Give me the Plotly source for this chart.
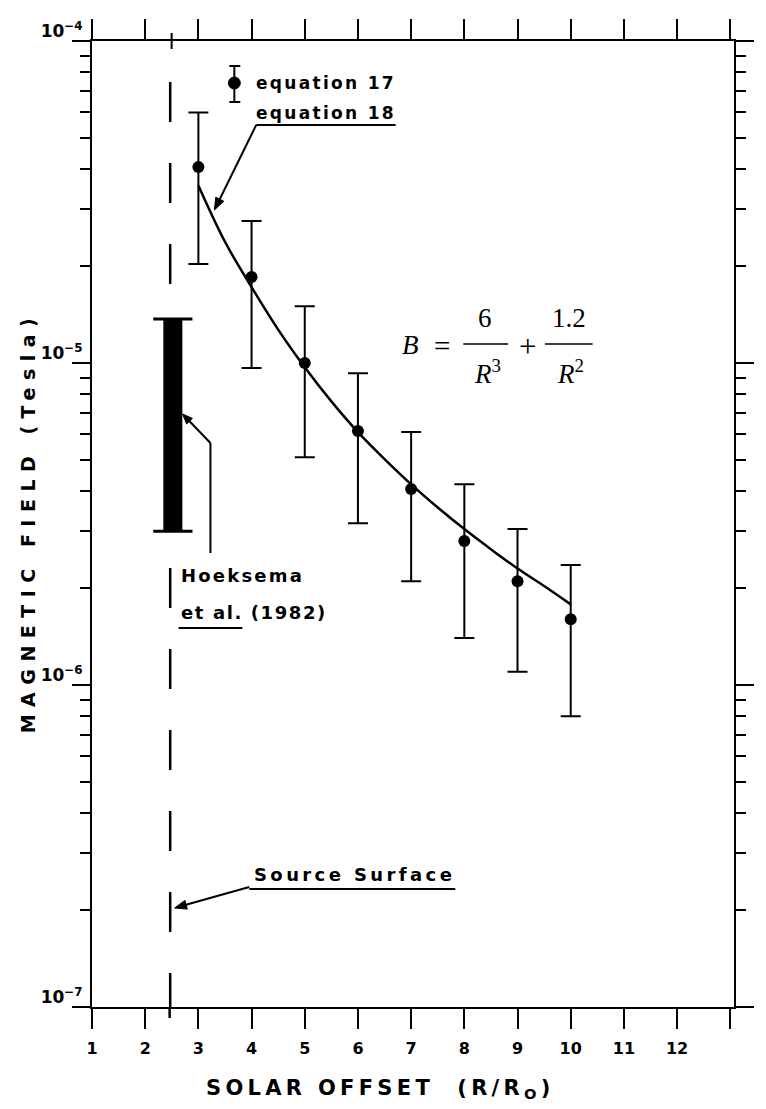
import math
import plotly.graph_objects as go

# ---------------- data ----------------
R_OBS = [3, 4, 5, 6, 7, 8, 9, 10]
B_OBS = [4.06e-5, 1.85e-5, 1.00e-5, 6.15e-6, 4.06e-6, 2.80e-6, 2.10e-6, 1.60e-6]
B_HI = [6.0e-5, 2.76e-5, 1.50e-5, 9.3e-6, 6.1e-6, 4.2e-6, 3.05e-6, 2.36e-6]
B_LO = [2.03e-5, 9.65e-6, 5.1e-6, 3.18e-6, 2.1e-6, 1.4e-6, 1.1e-6, 8.0e-7]

R_CURVE = [3, 3.5, 4, 4.5, 5, 5.5, 6, 6.5, 7, 7.5, 8, 8.5, 9, 9.5, 10]
B_CURVE = [3.56e-5, 2.38e-5, 1.72e-5, 1.27e-5, 9.7e-6, 7.6e-6, 6.1e-6, 5.03e-6,
           4.2e-6, 3.56e-6, 3.05e-6, 2.64e-6, 2.30e-6, 2.03e-6, 1.78e-6]

HOEKSEMA_R = [2.52, 2.52]
HOEKSEMA_B = [3.0e-6, 1.37e-5]

SOURCE_SURFACE_R = [2.47, 2.47]
SOURCE_SURFACE_B = [1e-4, 1e-7]

X_TICKS = [1, 2, 3, 4, 5, 6, 7, 8, 9, 10, 11, 12, 13]
X_TICK_TEXT = ["1", "2", "3", "4", "5", "6", "7", "8", "9", "10", "11", "12", " "]
Y_TICKS = [1e-7, 1e-6, 1e-5, 1e-4]
Y_TICK_TEXT = ["10<sup>\u22127</sup>", "10<sup>\u22126</sup>", "10<sup>\u22125</sup>", "10<sup>\u22124</sup>"]
Y_MINOR = [m * d for d in [1e-7, 1e-6, 1e-5] for m in range(2, 10)]

# ---------------- layout helpers (pixel -> paper) ----------------
L, R_, T, B_ = 92, 737, 41, 1007
W, H = 766, 1109


def px(x):
    return (x - L) / (R_ - L)


def py(y):
    return (B_ - y) / (B_ - T)


SANS = "DejaVu Sans"
SERIF = "Liberation Serif"

fig = go.Figure()

# source surface dashed line
fig.add_trace(go.Scatter(
    x=SOURCE_SURFACE_R, y=SOURCE_SURFACE_B, mode="lines",
    line=dict(color="black", width=2.5, dash="0px,41px,40px,0px"),
    hoverinfo="skip"))

# Hoeksema et al. range bar
fig.add_trace(go.Scatter(
    x=HOEKSEMA_R, y=HOEKSEMA_B, mode="lines",
    line=dict(color="black", width=19), hoverinfo="skip"))
fig.add_trace(go.Scatter(
    x=HOEKSEMA_R, y=HOEKSEMA_B, mode="markers",
    marker=dict(symbol="line-ew", size=28, line=dict(color="black", width=3)),
    hoverinfo="skip"))

# equation 18 curve
fig.add_trace(go.Scatter(
    x=R_CURVE, y=B_CURVE, mode="lines", line_shape="spline",
    line=dict(color="black", width=2.5)))

# equation 17 points with error bars
fig.add_trace(go.Scatter(
    x=R_OBS, y=B_OBS, mode="markers",
    marker=dict(color="black", size=12),
    error_y=dict(type="data", symmetric=False,
                 array=[h - b for h, b in zip(B_HI, B_OBS)],
                 arrayminus=[b - l for b, l in zip(B_OBS, B_LO)],
                 color="black", thickness=2, width=10)))

axis_common = dict(
    showline=True, linecolor="black", linewidth=2, mirror="ticks",
    ticks="outside", tickcolor="black", tickwidth=2, showgrid=False,
    zeroline=False)

fig.update_xaxes(range=[1, 13.07], tickmode="array", tickvals=X_TICKS,
                 ticktext=X_TICK_TEXT, ticklen=20, ticklabelstandoff=6,
                 tickfont=dict(family=SANS, size=16, color="black", weight="bold"),
                 **axis_common)
fig.update_yaxes(type="log", range=[-7, -4], tickmode="array", tickvals=Y_TICKS,
                 ticktext=Y_TICK_TEXT, ticklen=18, ticklabelshift=-10,
                 ticklabelstandoff=-14,
                 tickfont=dict(family=SANS, size=17, color="black", weight="bold"),
                 minor=dict(ticks="outside", ticklen=10, tickwidth=2, tickcolor="black",
                            tickvals=Y_MINOR, showgrid=False),
                 **axis_common)

shapes = []
annotations = []


def seg(x0, y0, x1, y1, w=2):
    shapes.append(dict(type="line", xref="paper", yref="paper",
                       x0=px(x0), x1=px(x1), y0=py(y0), y1=py(y1),
                       line=dict(color="black", width=w)))


def hline(x0, x1, y, w=2):
    seg(x0, y, x1, y, w)


def vline(x, y0, y1, w=2):
    seg(x, y0, x, y1, w)


def text(t, x, y, size=18, family=SANS, xanchor="left", bold=True, spacing=None,
         angle=0):
    if spacing:
        t = '<span style="letter-spacing:%spx">%s</span>' % (spacing, t)
    if bold:
        t = "<b>%s</b>" % t
    annotations.append(dict(text=t, x=px(x), y=py(y), xref="paper", yref="paper",
                            xanchor=xanchor, yanchor="middle", showarrow=False,
                            textangle=angle,
                            font=dict(family=family, size=size, color="black")))


def arrow(xh, yh, xt, yt, hl=12, hw=4.5):
    dx, dy = xh - xt, yh - yt
    n = math.hypot(dx, dy)
    ux, uy = dx / n, dy / n
    bx, by = xh - ux * hl, yh - uy * hl
    seg(xt, yt, bx + ux * 2, by + uy * 2)
    p1 = (bx - uy * hw, by + ux * hw)
    p2 = (bx + uy * hw, by - ux * hw)
    path = "M %f %f L %f %f L %f %f Z" % (px(xh), py(yh), px(p1[0]), py(p1[1]),
                                        px(p2[0]), py(p2[1]))
    shapes.append(dict(type="path", xref="paper", yref="paper", path=path,
                       fillcolor="black", line=dict(color="black", width=1)))


# source surface line ends that run past the frame
vline(170, 1007, 1018, w=2.5)
vline(172, 33, 49, w=2)

# legend: equation 17 symbol
vline(235, 66, 102)
hline(230, 241, 66)
hline(230, 241, 102)
shapes.append(dict(type="circle", xref="paper", yref="paper",
                   x0=px(229), x1=px(241), y0=py(89), y1=py(77),
                   fillcolor="black", line=dict(color="black", width=1)))
text("equation 17", 255, 83, size=17, spacing=2.3)
text("equation 18", 255, 113, size=17, spacing=2.3)
hline(257, 397, 125)
arrow(215, 210, 257, 125)

# equation text
text("<i>B</i>", 412, 345, size=27, family=SERIF, xanchor="center", bold=False)
text("=", 444, 346, size=29, family=SERIF, xanchor="center", bold=False)
text("6", 487, 318, size=27, family=SERIF, xanchor="center", bold=False)
text("<i>R</i><sup>3</sup>", 489, 372, size=27, family=SERIF, xanchor="center", bold=False)
text("+", 530, 346, size=31, family=SERIF, xanchor="center", bold=False)
text("1.2", 571, 318, size=27, family=SERIF, xanchor="center", bold=False)
text("<i>R</i><sup>2</sup>", 573, 372, size=27, family=SERIF, xanchor="center", bold=False)
hline(465, 510, 344, w=1.5)
hline(547, 595, 344, w=1.5)

# Hoeksema label
text("Hoeksema", 179, 575, size=18, spacing=2.2)
text("et al. (1982)", 179, 612, size=18, spacing=1.6)
hline(179, 243, 628)
arrow(183, 414, 211, 443, hl=10, hw=4)
vline(211, 443, 553)

# Source surface label
text("Source Surface", 253, 874, size=18, spacing=3.4)
hline(250, 457, 889)
arrow(175, 908, 250, 887)

# axis titles
text("SOLAR OFFSET&nbsp;&nbsp;(R/R<sub>O</sub>)", 382, 1089, size=21,
     xanchor="center", spacing=4.3)
text("MAGNETIC FIELD (Tesla)", 28, 522, size=19, xanchor="center",
     spacing=7.5, angle=-90)

fig.update_layout(
    width=W, height=H, margin=dict(l=L, r=W - R_, t=T, b=H - B_),
    paper_bgcolor="white", plot_bgcolor="white", showlegend=False,
    shapes=shapes, annotations=annotations)

fig.write_html("out.html")
